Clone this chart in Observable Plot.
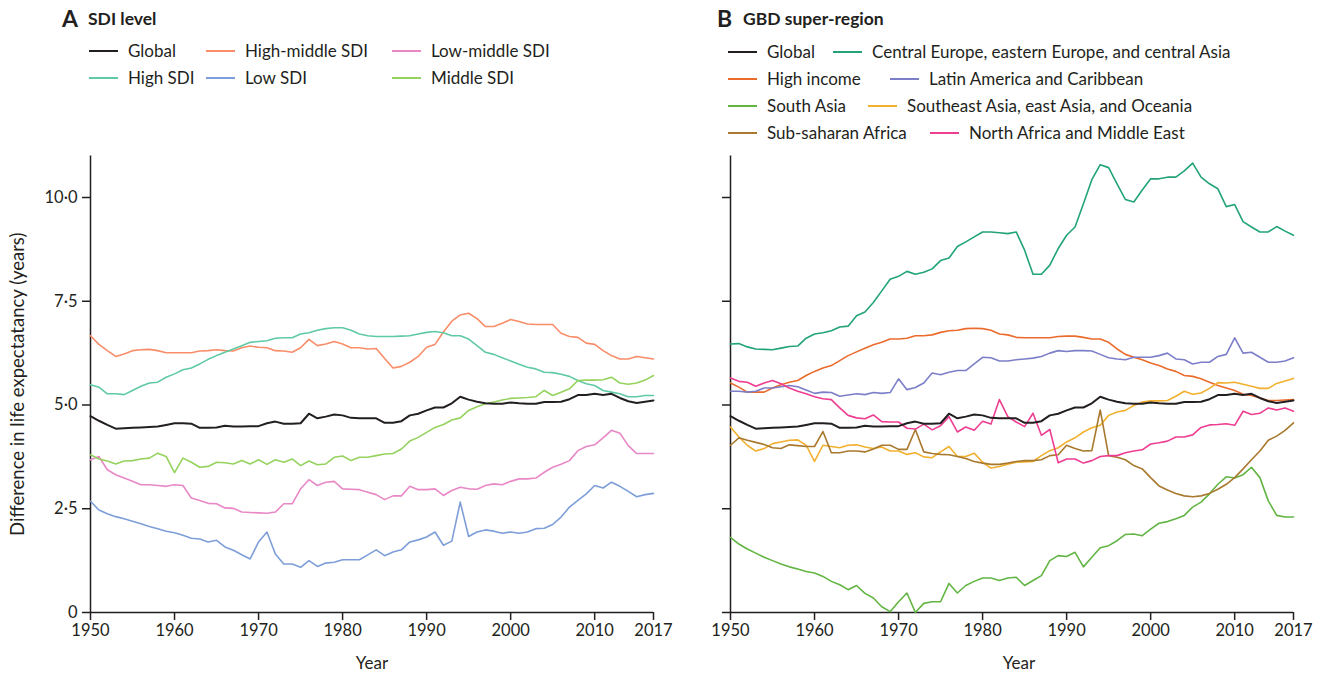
<!DOCTYPE html>
<html><head><meta charset="utf-8">
<script src="https://cdn.jsdelivr.net/npm/d3@7"></script>
<script src="https://cdn.jsdelivr.net/npm/@observablehq/plot@0.6"></script>
<style>
body{margin:0;background:#fff;}
#wrap{position:relative;width:1331px;height:674px;font-family:Lato,"Noto Sans",sans-serif;color:#231f20;overflow:hidden;}
.t{position:absolute;white-space:nowrap;line-height:1;}
.big{font-weight:700;font-size:23px;}
.sub{font-weight:700;font-size:17.5px;}
.leg{position:absolute;white-space:nowrap;font-size:17px;line-height:20px;height:20px;display:flex;align-items:center;}
.sw{display:inline-block;width:29px;height:0;border-top:2px solid;margin-right:10px;}
</style></head>
<body><div id="wrap"></div>
<script>
// ---- data ----
const years = d3.range(1950, 2018);
const global = [4.73,4.62,4.52,4.43,4.44,4.45,4.46,4.47,4.48,4.52,4.56,4.56,4.55,4.45,4.45,4.46,4.5,4.48,4.48,4.49,4.49,4.56,4.6,4.55,4.55,4.56,4.79,4.68,4.72,4.77,4.75,4.69,4.68,4.68,4.68,4.57,4.57,4.61,4.75,4.79,4.87,4.94,4.94,5.04,5.2,5.13,5.08,5.04,5.03,5.03,5.06,5.04,5.03,5.03,5.07,5.07,5.08,5.14,5.24,5.24,5.27,5.24,5.27,5.17,5.09,5.05,5.08,5.11];
const highMiddleSDI = [6.67,6.46,6.31,6.17,6.23,6.31,6.33,6.34,6.31,6.26,6.26,6.26,6.26,6.3,6.31,6.33,6.31,6.3,6.38,6.42,6.39,6.38,6.31,6.3,6.27,6.38,6.58,6.43,6.47,6.53,6.47,6.38,6.38,6.35,6.36,6.12,5.89,5.93,6.03,6.17,6.39,6.46,6.76,7.02,7.17,7.21,7.08,6.89,6.89,6.97,7.06,7.01,6.95,6.94,6.94,6.94,6.73,6.65,6.63,6.49,6.46,6.31,6.19,6.11,6.11,6.17,6.14,6.11];
const lowMiddleSDI = [3.68,3.76,3.44,3.32,3.24,3.16,3.08,3.08,3.06,3.04,3.08,3.06,2.76,2.7,2.63,2.62,2.52,2.51,2.42,2.41,2.4,2.39,2.42,2.62,2.62,2.98,3.2,3.06,3.14,3.16,2.98,2.97,2.96,2.9,2.84,2.72,2.81,2.81,3.04,2.96,2.96,2.98,2.82,2.94,3.02,2.98,2.97,3.06,3.1,3.08,3.16,3.22,3.22,3.24,3.38,3.5,3.57,3.66,3.9,4.0,4.04,4.21,4.39,4.32,4.02,3.83,3.83,3.83];
const highSDI = [5.49,5.43,5.27,5.27,5.25,5.35,5.45,5.53,5.55,5.67,5.75,5.85,5.89,5.99,6.1,6.19,6.27,6.35,6.43,6.51,6.53,6.55,6.61,6.62,6.62,6.71,6.74,6.8,6.84,6.86,6.86,6.8,6.71,6.67,6.65,6.65,6.65,6.66,6.67,6.71,6.75,6.77,6.74,6.67,6.67,6.59,6.43,6.27,6.22,6.14,6.06,5.98,5.91,5.87,5.79,5.78,5.74,5.69,5.59,5.51,5.47,5.35,5.31,5.27,5.2,5.2,5.23,5.23];
const lowSDI = [2.68,2.47,2.38,2.31,2.26,2.2,2.14,2.07,2.02,1.96,1.92,1.86,1.79,1.77,1.7,1.74,1.58,1.5,1.39,1.29,1.7,1.94,1.41,1.17,1.17,1.09,1.25,1.11,1.19,1.21,1.27,1.27,1.27,1.39,1.51,1.37,1.46,1.51,1.7,1.75,1.82,1.94,1.62,1.72,2.66,1.83,1.94,1.99,1.96,1.91,1.94,1.91,1.94,2.02,2.03,2.12,2.3,2.54,2.7,2.86,3.06,3.0,3.14,3.04,2.92,2.79,2.84,2.87];
const middleSDI = [3.8,3.7,3.65,3.58,3.65,3.66,3.7,3.72,3.84,3.76,3.37,3.72,3.62,3.5,3.52,3.62,3.61,3.58,3.66,3.58,3.68,3.57,3.68,3.62,3.7,3.54,3.65,3.56,3.58,3.74,3.77,3.66,3.74,3.74,3.78,3.82,3.83,3.94,4.13,4.22,4.34,4.46,4.53,4.64,4.69,4.87,4.96,5.03,5.07,5.12,5.16,5.17,5.18,5.2,5.35,5.23,5.31,5.39,5.59,5.6,5.6,5.61,5.67,5.53,5.5,5.53,5.6,5.71];

const centralEurope = [6.47,6.48,6.4,6.35,6.34,6.33,6.37,6.41,6.42,6.61,6.71,6.74,6.79,6.88,6.9,7.15,7.24,7.47,7.75,8.03,8.1,8.22,8.15,8.2,8.28,8.48,8.54,8.82,8.93,9.05,9.17,9.17,9.15,9.13,9.17,8.73,8.15,8.15,8.37,8.77,9.09,9.29,9.85,10.43,10.79,10.72,10.33,9.95,9.89,10.18,10.45,10.45,10.49,10.49,10.64,10.83,10.49,10.33,10.21,9.78,9.83,9.42,9.29,9.17,9.17,9.3,9.19,9.09];
const highIncome = [5.53,5.43,5.31,5.31,5.31,5.41,5.49,5.55,5.59,5.71,5.81,5.89,5.95,6.07,6.19,6.28,6.37,6.45,6.51,6.59,6.59,6.61,6.67,6.67,6.69,6.75,6.79,6.8,6.84,6.85,6.84,6.8,6.71,6.69,6.63,6.62,6.62,6.62,6.62,6.65,6.66,6.66,6.63,6.59,6.59,6.51,6.35,6.22,6.15,6.09,6.01,5.95,5.87,5.81,5.71,5.69,5.63,5.55,5.47,5.41,5.35,5.26,5.23,5.17,5.11,5.11,5.12,5.13];
const latinAmerica = [5.33,5.33,5.31,5.33,5.41,5.41,5.44,5.47,5.44,5.36,5.28,5.31,5.3,5.21,5.24,5.27,5.25,5.3,5.28,5.3,5.63,5.37,5.42,5.53,5.77,5.73,5.79,5.83,5.83,5.99,6.15,6.14,6.06,6.06,6.09,6.11,6.13,6.17,6.25,6.31,6.29,6.31,6.31,6.3,6.22,6.14,6.11,6.09,6.15,6.15,6.15,6.19,6.25,6.11,6.09,5.99,6.03,6.03,6.17,6.22,6.62,6.25,6.27,6.15,6.03,6.03,6.06,6.14];
const southAsia = [1.81,1.65,1.53,1.43,1.33,1.25,1.17,1.1,1.05,0.99,0.95,0.87,0.75,0.67,0.55,0.65,0.46,0.35,0.14,0.02,0.26,0.47,0,0.22,0.26,0.26,0.7,0.47,0.65,0.75,0.83,0.83,0.77,0.83,0.85,0.65,0.77,0.89,1.25,1.37,1.35,1.45,1.1,1.33,1.56,1.61,1.73,1.88,1.89,1.85,2.01,2.15,2.19,2.26,2.34,2.54,2.66,2.86,3.09,3.27,3.24,3.32,3.5,3.25,2.69,2.34,2.3,2.3];
const southeastAsia = [4.47,4.23,4.03,3.89,3.95,4.07,4.11,4.15,4.16,4.03,3.64,4.03,4.0,3.97,4.03,4.04,3.99,3.95,3.99,3.89,3.89,3.81,3.85,3.75,3.73,3.87,4.0,3.76,3.76,3.84,3.62,3.48,3.52,3.57,3.62,3.63,3.64,3.78,3.9,3.97,4.11,4.21,4.35,4.45,4.51,4.75,4.83,4.87,4.99,5.07,5.1,5.1,5.11,5.21,5.33,5.26,5.29,5.4,5.54,5.53,5.55,5.5,5.45,5.4,5.4,5.52,5.58,5.64];
const subSaharanAfrica = [4.03,4.21,4.15,4.1,4.05,3.97,3.95,4.04,4.02,4.0,4.0,4.36,3.85,3.85,3.89,3.89,3.87,3.94,4.03,4.03,3.93,3.93,4.41,3.87,3.83,3.81,3.8,3.76,3.71,3.64,3.6,3.57,3.57,3.6,3.64,3.66,3.66,3.68,3.78,3.8,4.03,3.95,3.89,3.9,4.88,3.78,3.74,3.68,3.54,3.46,3.25,3.05,2.95,2.87,2.81,2.79,2.81,2.87,2.97,3.09,3.25,3.46,3.68,3.89,4.15,4.25,4.39,4.57];
const northAfrica = [5.65,5.57,5.55,5.45,5.53,5.59,5.51,5.41,5.33,5.27,5.2,5.15,5.13,4.93,4.75,4.69,4.67,4.76,4.6,4.59,4.59,4.44,4.42,4.54,4.4,4.5,4.72,4.35,4.47,4.39,4.61,4.54,5.13,4.72,4.59,4.48,4.8,4.27,4.41,3.61,3.7,3.7,3.6,3.66,3.76,3.78,3.78,3.85,3.89,3.92,4.06,4.09,4.13,4.23,4.23,4.28,4.46,4.52,4.53,4.55,4.51,4.85,4.77,4.8,4.93,4.88,4.93,4.85];

const xTicks = [1950,1960,1970,1980,1990,2000,2010,2017];
const yTicks = [0,2.5,5,7.5,10];

const seriesA = ["Global","High-middle SDI","Low-middle SDI","High SDI","Low SDI","Middle SDI"];
const valuesA = [global, highMiddleSDI, lowMiddleSDI, highSDI, lowSDI, middleSDI];
const colorsA = ["#231f20","#f98d69","#e888c6","#5fcaa3","#7d9ed8","#95d25e"];

const seriesB = ["Global","Central Europe, eastern Europe, and central Asia","High income","Latin America and Caribbean","South Asia","Southeast Asia, east Asia, and Oceania","Sub-saharan Africa","North Africa and Middle East"];
const valuesB = [global, centralEurope, highIncome, latinAmerica, southAsia, southeastAsia, subSaharanAfrica, northAfrica];
const colorsB = ["#231f20","#22a37a","#eb6b2c","#7c7fc8","#62b543","#f2b02f","#a8792e","#ee3e92"];

// ---- layout (positions only) ----
const legendPosA = [[89,51],[206,51],[392,51],[89,78],[206,78],[392,78]];
const legendPosB = [[728,52],[833,52],[728,79],[890,79],[728,106],[868,106],[728,133],[930,133]];

const wrap = document.getElementById("wrap");
function addText(cls, txt, left, cy){
  const d = document.createElement("div");
  d.className = "t " + cls; d.textContent = txt;
  d.style.left = left + "px"; wrap.appendChild(d);
  d.style.top = (cy - d.offsetHeight/2) + "px";
}
addText("big","A",62,18); addText("sub","SDI level",88,19);
addText("big","B",717,18); addText("sub","GBD super-region",743,19);

function addLegend(names, colors, pos){
  names.forEach((n,i)=>{
    const d = document.createElement("div");
    d.className = "leg";
    d.style.left = pos[i][0] + "px"; d.style.top = (pos[i][1]-10) + "px";
    const s = document.createElement("span"); s.className = "sw"; s.style.borderTopColor = colors[i];
    d.appendChild(s); d.appendChild(document.createTextNode(n));
    wrap.appendChild(d);
  });
}
addLegend(seriesA, colorsA, legendPosA);
addLegend(seriesB, colorsB, legendPosB);

function toRows(names, vals){
  const rows = [];
  names.forEach((n,i)=> vals[i].forEach((v,j)=> rows.push({series:n, year:years[j], value:v})));
  return rows;
}
const fmt = d => d === 0 ? "0" : d.toFixed(1).replace(".", "·");

function makePlot(names, vals, colors, opts){
  const rows = toRows(names, vals);
  const others = rows.filter(r => r.series !== "Global");
  const glob = rows.filter(r => r.series === "Global");
  return Plot.plot({
    width: opts.width, height: 524,
    marginTop: 5.5, marginBottom: 62, marginLeft: opts.ml, marginRight: opts.mr,
    x: {domain: [1950, 2017]},
    y: {domain: [0, 11]},
    color: {domain: names, range: colors},
    style: {fontFamily: "Lato, 'Noto Sans', sans-serif", fontSize: "16.5px", color: "#231f20", background: "transparent", overflow: "visible"},
    marks: [
      Plot.axisY({ticks: yTicks, tickFormat: opts.yLabels ? fmt : () => "", tickSize: 8, tickPadding: 5, strokeWidth: 1.5, label: null}),
      Plot.axisX({ticks: xTicks, tickFormat: d => String(d), tickSize: 8, tickPadding: 4, strokeWidth: 1.5, label: null}),
      Plot.ruleX([1950], {strokeWidth: 1.5}),
      Plot.ruleY([0], {strokeWidth: 1.5}),
      Plot.lineY(others, {x: "year", y: "value", z: "series", stroke: "series", strokeWidth: 1.6}),
      Plot.lineY(glob, {x: "year", y: "value", stroke: "series", strokeWidth: 2}),
      Plot.text(["Year"], {frameAnchor: "bottom", dy: 51, dx: opts.yearDx, lineAnchor: "middle", textAnchor: "middle", fontSize: 17}),
      ...(opts.yLabels ? [Plot.text(["Difference in life expectatancy (years)"], {frameAnchor: "left", textAnchor: "middle", lineAnchor: "middle", rotate: -90, dx: -72, fontSize: 18.5})] : [])
    ]
  });
}

const pa = makePlot(seriesA, valuesA, colorsA, {width: 665, ml: 90, mr: 12, yLabels: true, yearDx: 0});
pa.style.position = "absolute"; pa.style.left = "0px"; pa.style.top = "150px";
wrap.appendChild(pa);
const pb = makePlot(seriesB, valuesB, colorsB, {width: 666, ml: 65, mr: 38, yLabels: false, yearDx: 7});
pb.style.position = "absolute"; pb.style.left = "665px"; pb.style.top = "150px";
wrap.appendChild(pb);
</script></body></html>
